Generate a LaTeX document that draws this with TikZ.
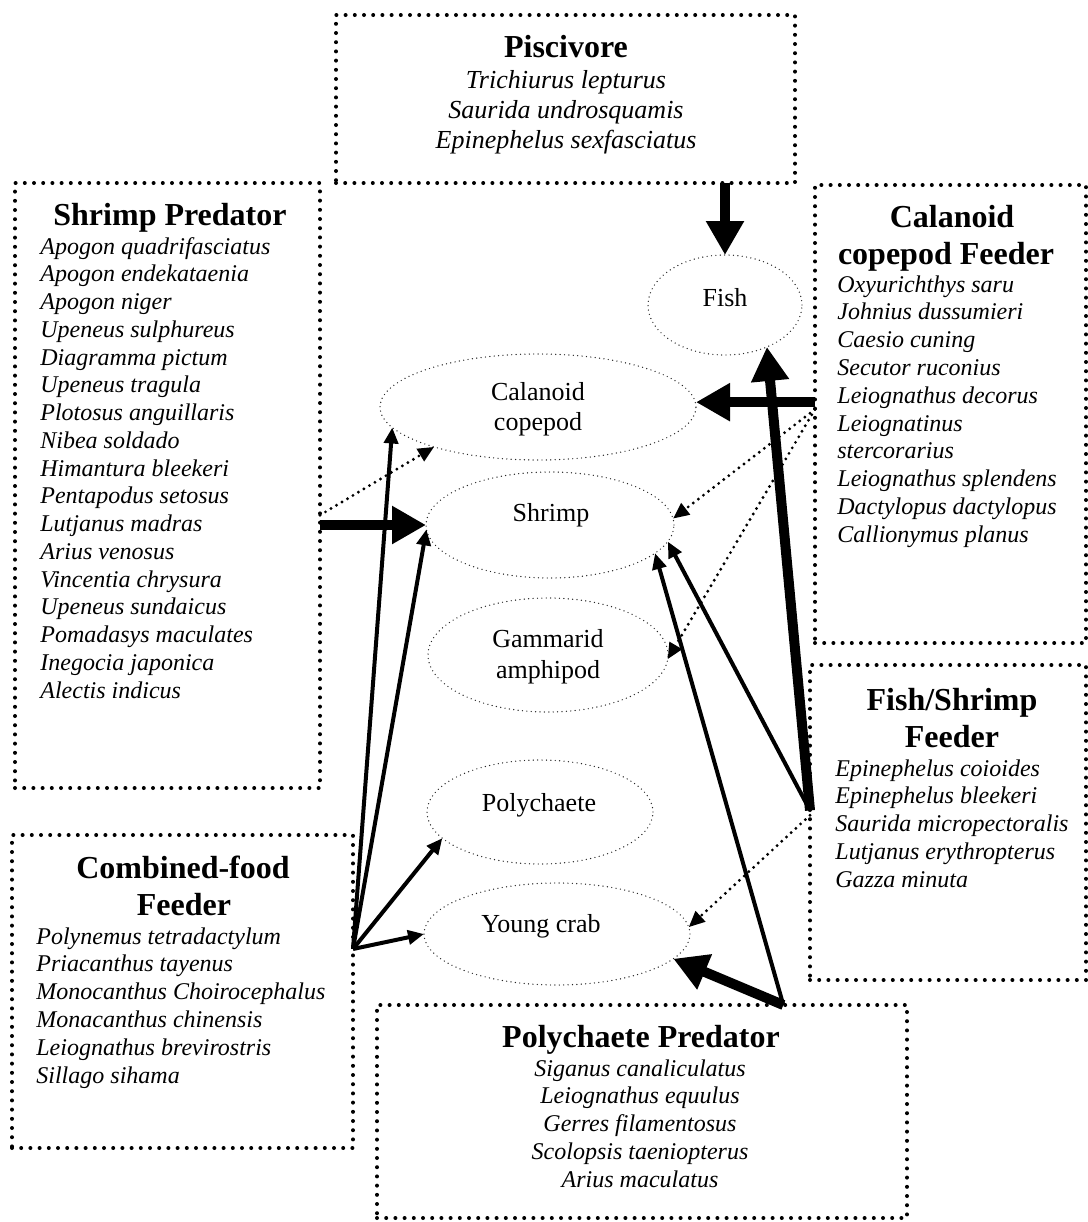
\documentclass[tikz,border=0pt]{standalone}
\usepackage{fontspec}
\setmainfont{Liberation Serif}
\usetikzlibrary{arrows.meta,fit,shapes.geometric}

\tikzset{
  boite/.style={draw, line width=2pt, line cap=round, dash pattern=on 0pt off 4.6pt, inner sep=0pt, outer sep=0pt},
  proie/.style={ellipse, draw=black!85, line width=0.7pt, line cap=round, dash pattern=on 0pt off 2.2pt, inner sep=0pt, outer sep=0pt},
  etiquette/.style={font=\fontsize{13}{15.5}\selectfont, anchor=base, inner sep=0pt},
  titre/.style={font=\fontsize{16}{18.5}\selectfont\bfseries, anchor=base, inner sep=0pt},
  espece/.style={font=\fontsize{12}{14}\selectfont\itshape, anchor=base west, inner sep=0pt},
  fine/.style={line width=2pt, -{Triangle[length=8pt,width=7pt]}},
  epaisse/.style={line width=5pt, -{Triangle[length=17pt,width=18pt]}},
  pointille/.style={line width=1.6pt, line cap=round, dash pattern=on 0pt off 3.2pt, -{Triangle[length=8pt,width=7pt]}},
}

\begin{document}
\begin{tikzpicture}[x=0.5pt, y=-0.5pt]
    \useasboundingbox (0,0) rectangle (1088,1222);

    % Proies (ellipses)
    \node[proie, minimum width=77pt, minimum height=50pt] (fish) at (725,305) {};
    \node[proie, minimum width=158pt, minimum height=53pt] (calanoid) at (538,407) {};
    \node[proie, minimum width=124pt, minimum height=53pt] (shrimp) at (550,525) {};
    \node[proie, minimum width=120pt, minimum height=57pt] (gammarid) at (548,655) {};
    \node[proie, minimum width=113pt, minimum height=52pt] (polychaete) at (540,812) {};
    \node[proie, minimum width=133pt, minimum height=51pt] (crab) at (557,934) {};

    \node[etiquette] (fish-t) at (725,306) {Fish};
    \node[etiquette] (calanoid-t1) at (538,400) {Calanoid};
    \node[etiquette] (calanoid-t2) at (538,430) {copepod};
    \node[etiquette] (shrimp-t) at (551,521) {Shrimp};
    \node[etiquette] (gammarid-t1) at (548,647) {Gammarid};
    \node[etiquette] (gammarid-t2) at (548,678) {amphipod};
    \node[etiquette] (polychaete-t) at (539,811) {Polychaete};
    \node[etiquette] (crab-t) at (541,932) {Young crab};

    % Cadres des predateurs
    \node[boite, fit={(336,15) (795,183)}] (pisbox) {};
    \node[boite, fit={(15,183) (320,788)}] (spbox) {};
    \node[boite, fit={(815,185) (1086,643)}] (calbox) {};
    \node[boite, fit={(810,665) (1086,980)}] (fsbox) {};
    \node[boite, fit={(12,835) (353,1148)}] (cfbox) {};
    \node[boite, fit={(377,1005) (907,1218)}] (ppbox) {};

    % Titres
    \node[titre] (pis-t) at (566,57) {Piscivore};
    \node[titre] (sp-t) at (170,225) {Shrimp Predator};
    \node[titre] (cal-t1) at (952,227) {Calanoid};
    \node[titre] (cal-t2) at (946,264) {copepod Feeder};
    \node[titre] (fs-t1) at (952,710) {Fish/Shrimp};
    \node[titre] (fs-t2) at (952,747) {Feeder};
    \node[titre] (cf-t1) at (183,878) {Combined-food};
    \node[titre] (cf-t2) at (184,915) {Feeder};
    \node[titre] (pp-t) at (641,1047) {Polychaete Predator};

    % Especes
    \foreach \nom [count=\i from 0] in {Trichiurus lepturus, Saurida undrosquamis, Epinephelus sexfasciatus}
        \node[espece, anchor=base, font=\fontsize{13}{15}\selectfont\itshape] (pis-\i) at (566,{88+30*\i}) {\nom};
    \foreach \nom [count=\i from 0] in {Apogon quadrifasciatus, Apogon endekataenia, Apogon niger,
        Upeneus sulphureus, Diagramma pictum, Upeneus tragula, Plotosus anguillaris, Nibea soldado,
        Himantura bleekeri, Pentapodus setosus, Lutjanus madras, Arius venosus, Vincentia chrysura,
        Upeneus sundaicus, Pomadasys maculates, Inegocia japonica, Alectis indicus}
        \node[espece] (sp-\i) at (40,{254+27.75*\i}) {\nom};
    \foreach \nom [count=\i from 0] in {Oxyurichthys saru, Johnius dussumieri, Caesio cuning,
        Secutor ruconius, Leiognathus decorus, Leiognatinus, stercorarius, Leiognathus splendens,
        Dactylopus dactylopus, Callionymus planus}
        \node[espece] (cal-\i) at (837,{292+27.8*\i}) {\nom};
    \foreach \nom [count=\i from 0] in {Epinephelus coioides, Epinephelus bleekeri,
        Saurida micropectoralis, Lutjanus erythropterus, Gazza minuta}
        \node[espece] (fs-\i) at (835,{776+27.75*\i}) {\nom};
    \foreach \nom [count=\i from 0] in {Polynemus tetradactylum, Priacanthus tayenus,
        Monocanthus Choirocephalus, Monacanthus chinensis, Leiognathus brevirostris, Sillago sihama}
        \node[espece] (cf-\i) at (36,{944+27.8*\i}) {\nom};
    \foreach \nom [count=\i from 0] in {Siganus canaliculatus, Leiognathus equulus,
        Gerres filamentosus, Scolopsis taeniopterus, Arius maculatus}
        \node[espece, anchor=base] (pp-\i) at (640,{1076+27.75*\i}) {\nom};

    % Fleches
    \draw[epaisse] (pisbox.south -| fish.north) -- (fish.north);
    \draw[epaisse] (calbox.175) -- (calbox.175 -| calanoid.east);
    \draw[pointille] (calbox.178) -- (shrimp.3);
    \draw[pointille] (calbox.178) -- (gammarid.-2);

    \draw[epaisse] (spbox.east |- shrimp.west) -- (shrimp.west);
    \draw[pointille] (spbox.-11) -- (calanoid.201);

    \draw[epaisse] (fsbox.175) -- (fish.-45);
    \draw[fine] (fsbox.175) -- (shrimp.-8);
    \draw[pointille] (fsbox.177) -- (crab.3);

    \foreach \cible in {calanoid.188, shrimp.182, polychaete.195, crab.180}
        \draw[fine] (cfbox.14) -- (\cible);

    \draw[epaisse] (ppbox.37) -- (crab.-12);
    \draw[fine] (ppbox.37) -- (shrimp.-15);

\end{tikzpicture}
\end{document}
